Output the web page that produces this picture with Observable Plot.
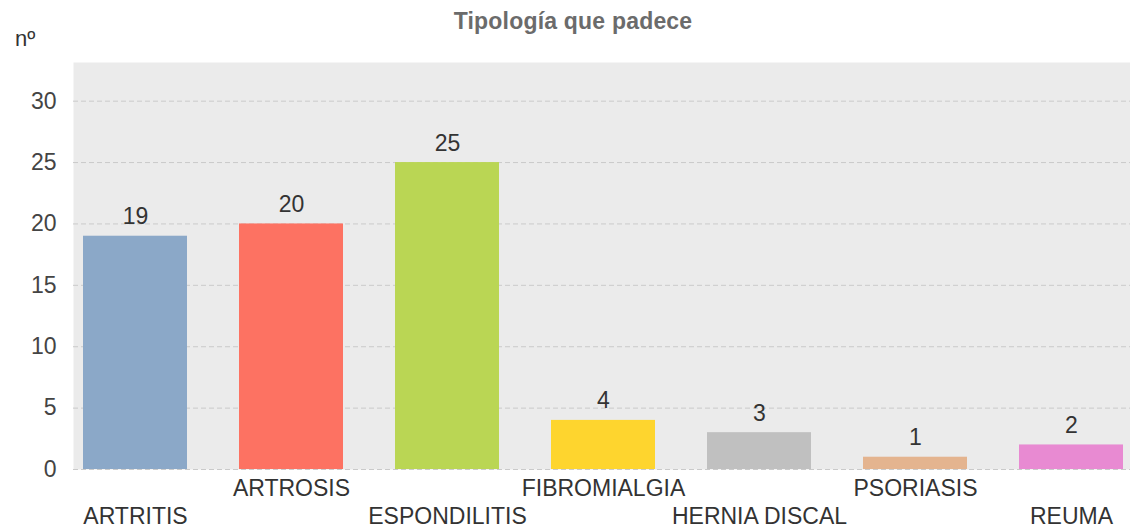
<!DOCTYPE html>
<html><head><meta charset="utf-8">
<script src="https://cdn.jsdelivr.net/npm/d3@7"></script>
<script src="https://cdn.jsdelivr.net/npm/@observablehq/plot@0.6"></script>
<style>
html,body{margin:0;padding:0;background:#fff;}
#wrap{position:relative;width:1130px;height:528px;font-family:"Liberation Sans",Arial,sans-serif;}
#title{position:absolute;left:0;top:10px;width:1146px;text-align:center;font-size:23px;line-height:1;font-weight:bold;color:#6b6b6b;letter-spacing:0.2px;}
#unit{position:absolute;left:15px;top:28px;font-size:22px;line-height:1;color:#333;}
#chart{position:absolute;left:0;top:0;}
</style></head><body>
<div id="wrap"><div id="chart"></div><div id="title">Tipología que padece</div><div id="unit">nº</div></div>
<script>
const categories = ["ARTRITIS","ARTROSIS","ESPONDILITIS","FIBROMIALGIA","HERNIA DISCAL","PSORIASIS","REUMA"];
const values = [19,20,25,4,3,1,2];
const colors = ["#8ba8c8","#fd7262","#bad654","#fed52e","#c0c0c0","#e4b48f","#e88ad2"];
const yTicks = [0,5,10,15,20,25,30];
const yMax = 33.15;

const data = categories.map((c,i)=>({category:c, value:values[i]}));
const font = "'Liberation Sans', Arial, sans-serif";
const chart = Plot.plot({
  width:1130, height:528,
  marginTop:62, marginBottom:59, marginLeft:73, marginRight:0,
  style:{fontFamily:font, fontSize:"23px", background:"transparent"},
  x:{domain:categories, paddingInner:1/3, paddingOuter:0.05, align:0.6, label:null},
  y:{domain:[0,yMax], label:null},
  color:{domain:categories, range:colors},
  marks:[
    Plot.frame({fill:"#ebebeb", stroke:null}),
    Plot.ruleY(yTicks.filter(t=>t>0),{stroke:"#cacaca", strokeDasharray:"5,3", strokeWidth:1}),
    Plot.barY(data,{x:"category", y:"value", fill:"category"}),
    Plot.ruleY([0],{stroke:"#cacaca", strokeDasharray:"5,3", strokeWidth:1}),
    Plot.text(data,{x:"category", y:"value", text:d=>String(d.value), lineAnchor:"bottom", dy:-12, fill:"#333", fontSize:23}),
    Plot.axisY({ticks:yTicks, tickSize:0, tickPadding:17, color:"#444", fontSize:23, label:null}),
    Plot.axisX({ticks:categories.filter((c,i)=>i%2===1), tickSize:0, tickPadding:10, color:"#333", fontSize:23, label:null}),
    Plot.axisX({ticks:categories.filter((c,i)=>i%2===0), tickSize:0, tickPadding:38, color:"#333", fontSize:23, label:null})
  ]
});
document.getElementById("chart").appendChild(chart);
</script>
</body></html>
